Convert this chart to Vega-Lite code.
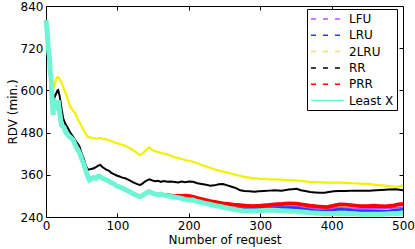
{
  "$schema": "https://vega.github.io/schema/vega-lite/v6.json",
  "width": 357,
  "height": 211,
  "autosize": {"type": "none"},
  "padding": {"left": 46, "top": 6, "right": 12, "bottom": 32},
  "config": {
    "font": "DejaVu Sans",
    "view": {"stroke": "black", "strokeWidth": 1},
    "axis": {"grid": false, "labelFont": "DejaVu Sans", "labelFontSize": 12, "labelColor": "black", "titleFont": "DejaVu Sans", "titleFontSize": 12, "titleFontWeight": "normal", "titleColor": "black", "tickColor": "black", "domainColor": "black"}
  },
  "datasets": {
    "lx": [
      {"x":0,"y":800},{"x":2,"y":760},{"x":3,"y":724},{"x":5,"y":690},{"x":6,"y":650},{"x":7,"y":640},{"x":8,"y":600},{"x":9,"y":560},{"x":10,"y":530},{"x":11,"y":575},{"x":13,"y":560},{"x":15,"y":545},{"x":17,"y":572},{"x":19,"y":540},{"x":21,"y":510},{"x":22,"y":500},{"x":25,"y":495},{"x":28,"y":480},{"x":32,"y":470},{"x":35,"y":465},{"x":38,"y":459},{"x":42,"y":440},{"x":45,"y":430},{"x":47,"y":422},{"x":50,"y":405},{"x":53,"y":390},{"x":56,"y":370},{"x":59,"y":352},{"x":61,"y":345},{"x":64,"y":350},{"x":67,"y":352},{"x":70,"y":350},{"x":73,"y":356},{"x":76,"y":355},{"x":79,"y":350},{"x":82,"y":348},{"x":85,"y":345},{"x":88,"y":342},{"x":91,"y":338},{"x":95,"y":335},{"x":99,"y":328},{"x":103,"y":326},{"x":107,"y":322},{"x":111,"y":318},{"x":115,"y":314},{"x":119,"y":310},{"x":123,"y":305},{"x":127,"y":302},{"x":131,"y":298},{"x":134,"y":300},{"x":138,"y":305},{"x":142,"y":310},{"x":145,"y":312},{"x":149,"y":308},{"x":153,"y":305},{"x":157,"y":303},{"x":161,"y":305},{"x":165,"y":302},{"x":170,"y":300},{"x":175,"y":298},{"x":180,"y":297},{"x":185,"y":295},{"x":190,"y":293},{"x":195,"y":290},{"x":200,"y":288},{"x":206,"y":288},{"x":210,"y":285},{"x":215,"y":283},{"x":220,"y":280},{"x":226,"y":278},{"x":232,"y":275},{"x":238,"y":272},{"x":244,"y":270},{"x":250,"y":267},{"x":256,"y":264},{"x":262,"y":262},{"x":268,"y":260},{"x":275,"y":258},{"x":282,"y":257},{"x":290,"y":257},{"x":300,"y":258},{"x":310,"y":259},{"x":320,"y":259},{"x":330,"y":258},{"x":340,"y":257},{"x":350,"y":256},{"x":360,"y":254},{"x":370,"y":252},{"x":380,"y":251},{"x":390,"y":250},{"x":400,"y":250},{"x":410,"y":250},{"x":420,"y":249},{"x":430,"y":249},{"x":440,"y":248},{"x":450,"y":248},{"x":460,"y":248},{"x":470,"y":248},{"x":480,"y":249},{"x":490,"y":250},{"x":500,"y":251}
    ],
    "rr": [
      {"x":0,"y":800},{"x":2,"y":760},{"x":3,"y":724},{"x":5,"y":690},{"x":6,"y":650},{"x":8,"y":610},{"x":10,"y":590},{"x":12,"y":580},{"x":14,"y":590},{"x":16,"y":600},{"x":17,"y":601},{"x":19,"y":585},{"x":20,"y":573},{"x":22,"y":545},{"x":24,"y":521},{"x":27,"y":505},{"x":30,"y":495},{"x":34,"y":480},{"x":38,"y":468},{"x":42,"y":455},{"x":45,"y":447},{"x":47,"y":440},{"x":50,"y":420},{"x":53,"y":405},{"x":56,"y":385},{"x":59,"y":374},{"x":62,"y":376},{"x":66,"y":378},{"x":70,"y":382},{"x":73,"y":386},{"x":76,"y":388},{"x":79,"y":382},{"x":82,"y":378},{"x":85,"y":374},{"x":88,"y":372},{"x":91,"y":366},{"x":95,"y":362},{"x":99,"y":358},{"x":103,"y":355},{"x":107,"y":352},{"x":111,"y":350},{"x":115,"y":346},{"x":119,"y":342},{"x":123,"y":338},{"x":127,"y":334},{"x":131,"y":331},{"x":134,"y":333},{"x":138,"y":340},{"x":142,"y":345},{"x":145,"y":347},{"x":149,"y":344},{"x":153,"y":342},{"x":157,"y":343},{"x":161,"y":340},{"x":165,"y":342},{"x":170,"y":340},{"x":175,"y":341},{"x":178,"y":340},{"x":185,"y":338},{"x":190,"y":341},{"x":195,"y":339},{"x":200,"y":341},{"x":206,"y":340},{"x":212,"y":336},{"x":218,"y":334},{"x":224,"y":332},{"x":230,"y":329},{"x":236,"y":330},{"x":242,"y":333},{"x":248,"y":334},{"x":254,"y":330},{"x":260,"y":326},{"x":266,"y":322},{"x":272,"y":316},{"x":278,"y":314},{"x":285,"y":313},{"x":292,"y":312},{"x":298,"y":313},{"x":305,"y":314},{"x":313,"y":315},{"x":320,"y":316},{"x":330,"y":315},{"x":340,"y":318},{"x":345,"y":319},{"x":351,"y":320},{"x":357,"y":316},{"x":363,"y":314},{"x":370,"y":311},{"x":377,"y":310},{"x":383,"y":309},{"x":390,"y":309},{"x":396,"y":311},{"x":403,"y":313},{"x":410,"y":314},{"x":420,"y":314},{"x":430,"y":315},{"x":440,"y":315},{"x":453,"y":315},{"x":462,"y":316},{"x":470,"y":317},{"x":480,"y":318},{"x":490,"y":319},{"x":500,"y":316}
    ],
    "two": [
      {"x":0,"y":800},{"x":2,"y":760},{"x":3,"y":724},{"x":5,"y":690},{"x":7,"y":650},{"x":9,"y":610},{"x":10,"y":601},{"x":12,"y":615},{"x":14,"y":630},{"x":16,"y":638},{"x":17,"y":638},{"x":19,"y":632},{"x":21,"y":625},{"x":23,"y":615},{"x":25,"y":605},{"x":27,"y":595},{"x":29,"y":585},{"x":31,"y":570},{"x":33,"y":560},{"x":35,"y":550},{"x":37,"y":545},{"x":39,"y":540},{"x":41,"y":535},{"x":43,"y":525},{"x":46,"y":512},{"x":48,"y":505},{"x":50,"y":497},{"x":53,"y":485},{"x":56,"y":475},{"x":59,"y":467},{"x":63,"y":466},{"x":67,"y":464},{"x":71,"y":463},{"x":76,"y":465},{"x":80,"y":462},{"x":85,"y":460},{"x":90,"y":457},{"x":95,"y":453},{"x":99,"y":450},{"x":104,"y":447},{"x":110,"y":443},{"x":117,"y":436},{"x":122,"y":430},{"x":127,"y":423},{"x":131,"y":416},{"x":135,"y":420},{"x":139,"y":428},{"x":143,"y":436},{"x":145,"y":438},{"x":148,"y":432},{"x":152,"y":428},{"x":156,"y":425},{"x":160,"y":423},{"x":165,"y":420},{"x":170,"y":418},{"x":175,"y":414},{"x":178,"y":411},{"x":185,"y":408},{"x":190,"y":405},{"x":195,"y":402},{"x":200,"y":400},{"x":206,"y":397},{"x":212,"y":393},{"x":218,"y":388},{"x":224,"y":384},{"x":230,"y":380},{"x":236,"y":376},{"x":242,"y":372},{"x":248,"y":369},{"x":254,"y":366},{"x":260,"y":363},{"x":266,"y":360},{"x":272,"y":357},{"x":278,"y":354},{"x":285,"y":352},{"x":290,"y":350},{"x":295,"y":350},{"x":300,"y":348},{"x":305,"y":348},{"x":313,"y":347},{"x":320,"y":347},{"x":330,"y":346},{"x":340,"y":345},{"x":350,"y":344},{"x":360,"y":342},{"x":369,"y":340},{"x":380,"y":339},{"x":390,"y":338},{"x":400,"y":338},{"x":410,"y":338},{"x":420,"y":337},{"x":430,"y":336},{"x":440,"y":335},{"x":453,"y":334},{"x":460,"y":332},{"x":470,"y":330},{"x":480,"y":328},{"x":490,"y":326},{"x":495,"y":327},{"x":500,"y":331}
    ],
    "prr": [
      {"x":160,"y":305},{"x":165,"y":302},{"x":170,"y":302},{"x":175,"y":301},{"x":180,"y":300},{"x":185,"y":300},{"x":190,"y":300},{"x":195,"y":301},{"x":200,"y":300},{"x":206,"y":297},{"x":212,"y":294},{"x":218,"y":291},{"x":224,"y":288},{"x":230,"y":285},{"x":236,"y":283},{"x":242,"y":281},{"x":248,"y":279},{"x":255,"y":277},{"x":262,"y":275},{"x":271,"y":274},{"x":280,"y":272},{"x":290,"y":271},{"x":300,"y":272},{"x":310,"y":274},{"x":320,"y":276},{"x":330,"y":277},{"x":341,"y":279},{"x":350,"y":278},{"x":360,"y":275},{"x":370,"y":272},{"x":380,"y":270},{"x":393,"y":268},{"x":400,"y":271},{"x":411,"y":276},{"x":420,"y":275},{"x":430,"y":273},{"x":440,"y":271},{"x":450,"y":271},{"x":460,"y":272},{"x":467,"y":271},{"x":475,"y":270},{"x":485,"y":272},{"x":492,"y":275},{"x":500,"y":277}
    ],
    "lru": [
      {"x":240,"y":272},{"x":250,"y":267},{"x":256,"y":266},{"x":262,"y":265},{"x":270,"y":264},{"x":280,"y":263},{"x":290,"y":263},{"x":300,"y":264},{"x":310,"y":265},{"x":320,"y":266},{"x":330,"y":266},{"x":340,"y":267},{"x":350,"y":266},{"x":360,"y":263},{"x":370,"y":260},{"x":380,"y":258},{"x":390,"y":257},{"x":400,"y":259},{"x":411,"y":262},{"x":420,"y":261},{"x":430,"y":259},{"x":440,"y":258},{"x":450,"y":257},{"x":460,"y":257},{"x":470,"y":257},{"x":480,"y":258},{"x":490,"y":260},{"x":500,"y":262}
    ],
    "lfu": [
      {"x":180,"y":298},{"x":200,"y":291},{"x":220,"y":282},{"x":240,"y":272},{"x":250,"y":268},{"x":256,"y":268},{"x":270,"y":267},{"x":290,"y":267},{"x":310,"y":269},{"x":330,"y":270},{"x":350,"y":270},{"x":370,"y":265},{"x":390,"y":262},{"x":410,"y":266},{"x":430,"y":264},{"x":450,"y":263},{"x":470,"y":264},{"x":490,"y":266},{"x":500,"y":268}
    ],
    "legend": [
      {"s":"LFU"},{"s":"LRU"},{"s":"2LRU"},{"s":"RR"},{"s":"PRR"},{"s":"Least X"}
    ]
  },
  "layer": [
    {
      "encoding": {
        "x": {"field": "x", "type": "quantitative", "scale": {"domain": [0, 500], "nice": false}, "axis": {"orient": "bottom", "values": [0,100,200,300,400,500], "tickSize": -4, "labelPadding": 7, "domain": false, "title": "Number of request", "titlePadding": 3, "labelFlush": false}},
        "y": {"field": "y", "type": "quantitative", "scale": {"domain": [240, 840], "nice": false, "zero": false}, "axis": {"orient": "left", "values": [240,360,480,600,720,840], "tickSize": -4, "labelPadding": 7, "domain": false, "title": "RDV (min.)", "titlePadding": 1}}
      },
      "layer": [
        {"data": {"name": "lfu"}, "mark": {"type": "line", "color": "#c34cff", "strokeWidth": 2}},
        {"data": {"name": "lru"}, "mark": {"type": "line", "color": "#1f3dff", "strokeWidth": 2.5}},
        {"data": {"name": "two"}, "mark": {"type": "line", "color": "#f2f200", "strokeWidth": 2.2}},
        {"data": {"name": "rr"}, "mark": {"type": "line", "color": "#000000", "strokeWidth": 2}},
        {"data": {"name": "prr"}, "mark": {"type": "line", "color": "#ff0000", "strokeWidth": 3.8}},
        {"data": {"name": "lx"}, "mark": {"type": "line", "color": "#6ff5d5", "strokeWidth": 5}}
      ]
    },
    {
      "data": {"name": "legend"},
      "transform": [{"filter": "datum.s == 'none'"}],
      "mark": {"type": "line"},
      "encoding": {
        "x": {"field": "x", "type": "quantitative", "axis": {"orient": "top", "values": [100,200,300,400], "tickSize": -4, "labels": false, "domain": false, "title": null}},
        "y": {"field": "y", "type": "quantitative", "axis": {"orient": "right", "values": [360,480,600,720], "tickSize": -4, "labels": false, "domain": false, "title": null}},
        "color": {"field": "s", "type": "nominal", "scale": {"domain": ["LFU","LRU","2LRU","RR","PRR","Least X"], "range": ["#c34cff","#1f3dff","#f2f200","#000000","#ff0000","#6ff5d5"]}, "legend": {"orient": "none", "legendX": 261, "legendY": 3, "title": null, "strokeColor": "black", "fillColor": "white", "padding": 3, "labelFont": "DejaVu Sans", "labelFontSize": 12, "labelColor": "black", "labelOffset": 25, "symbolType": "M-1,0H4.5", "symbolSize": 144, "symbolStrokeWidth": 1.5, "rowPadding": 3.3}},
        "strokeDash": {"field": "s", "type": "nominal", "scale": {"domain": ["LFU","LRU","2LRU","RR","PRR","Least X"], "range": [[5,7],[5,7],[5,7],[5,7],[5,7],[1,0]]}, "legend": {"orient": "none", "legendX": 261, "legendY": 3, "title": null, "strokeColor": "black", "fillColor": "white", "padding": 3, "labelFont": "DejaVu Sans", "labelFontSize": 12, "labelColor": "black", "labelOffset": 25, "symbolType": "M-1,0H4.5", "symbolSize": 144, "symbolStrokeWidth": 1.5, "rowPadding": 3.3}}
      }
    }
  ],
  "resolve": {"axis": {"x": "independent", "y": "independent"}}
}
